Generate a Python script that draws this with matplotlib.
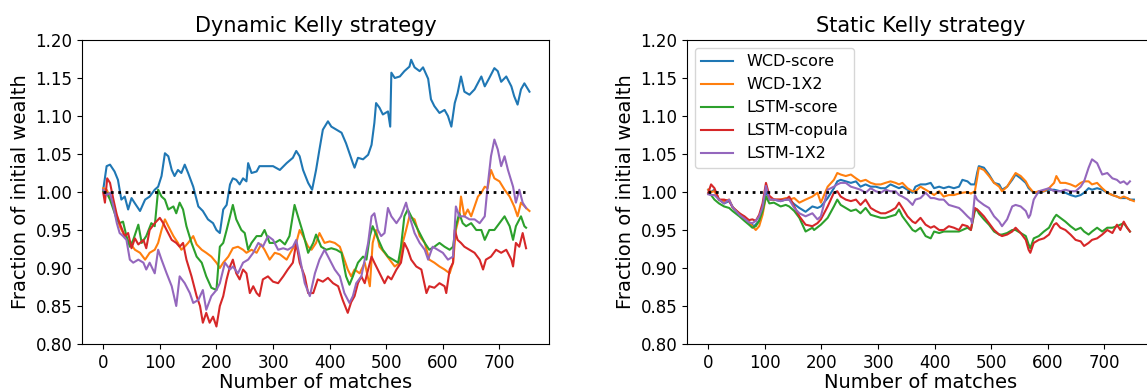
import matplotlib
matplotlib.use("Agg")
import matplotlib.pyplot as plt

# ---------------- data: Dynamic Kelly strategy ----------------
dyn_wcd_score_x = [0,6,12,20,26,32,38,44,50,56,65,74,82,91,97,103,109,115,121,126,132,138,144,150,159,168,176,185,194,200,206,212,218,224,229,235,241,247,253,256,262,271,276,288,300,312,324,335,341,347,353,362,369,376,382,388,397,403,412,421,429,435,441,444,450,459,468,474,479,482,488,494,503,507,509,515,524,532,541,544,550,559,565,574,579,585,594,603,609,615,621,626,632,638,647,656,668,674,682,691,697,703,712,721,726,732,738,744,753]
dyn_wcd_score_y = [1.003,1.034,1.036,1.027,1.016,0.99,0.994,0.977,0.992,0.985,0.975,0.99,0.994,1.003,1.007,1.021,1.051,1.047,1.029,1.021,1.029,1.025,1.036,1.025,1.007,0.981,0.975,0.964,0.959,0.95,0.946,0.977,0.983,1.01,1.018,1.016,1.01,1.018,1.014,1.038,1.025,1.027,1.034,1.034,1.034,1.029,1.038,1.045,1.054,1.047,1.029,1.012,1.003,1.029,1.056,1.082,1.093,1.086,1.082,1.078,1.064,1.051,1.038,1.032,1.045,1.043,1.049,1.062,1.091,1.117,1.111,1.102,1.106,1.086,1.157,1.15,1.152,1.159,1.165,1.174,1.164,1.159,1.164,1.149,1.122,1.113,1.104,1.108,1.1,1.086,1.117,1.13,1.152,1.132,1.128,1.135,1.152,1.139,1.15,1.163,1.159,1.145,1.152,1.139,1.126,1.115,1.135,1.143,1.132]

dyn_wcd_1x2_x = [0,6,12,18,24,29,38,47,56,65,74,82,91,97,103,109,115,124,132,138,144,150,159,165,174,182,191,200,206,212,221,229,238,247,253,262,271,279,285,294,303,312,324,332,341,
                 347,353,362,368,376,382,391,400,409,418,426,432,438,444,453,462,471,476,482,488,497,506,515,524,529,535,541,550,559,568,576,585,594,603,612,618,623,629,632,638,644,650,656,662,668,674,679,685,691,700,709,718,726,732,738,747,753]
dyn_wcd_1x2_y = [1.005,1.003,0.994,0.981,0.968,0.955,0.942,0.933,0.924,0.92,0.911,0.92,0.924,0.933,0.95,0.964,0.955,0.942,0.933,0.924,0.928,0.933,0.942,0.931,0.924,0.92,0.915,0.907,0.9,0.907,0.915,0.926,0.928,0.924,0.92,0.924,0.92,0.931,0.924,0.911,0.92,0.918,0.911,0.922,0.933,
                 0.95,0.942,0.928,0.924,0.933,0.946,0.933,0.935,0.933,0.928,0.911,0.898,0.889,0.898,0.893,0.907,0.876,0.933,0.95,0.928,0.92,0.911,0.902,0.907,0.933,0.95,0.968,0.964,0.942,0.933,0.911,0.907,0.902,0.898,0.893,0.907,0.95,0.968,0.994,0.968,0.977,0.968,0.981,0.994,0.999,1.007,1.005,1.029,1.018,1.014,1.003,0.994,0.981,0.968,0.986,0.979,0.975]

dyn_lstm_score_x = [0,6,12,18,24,29,35,41,47,53,62,68,76,85,91,97,103,109,115,124,129,135,141,147,156,165,174,182,191,200,206,212,218,224,229,235,244,250,256,262,271,279,285,294,303,312,321,329,338,344,
                    353,362,371,376,385,394,403,412,421,429,435,441,450,459,465,471,476,485,494,503,512,521,526,532,538,544,550,559,568,576,585,594,603,612,618,623,629,635,641,650,659,668,674,682,691,700,709,718,724,729,738,744,747]
dyn_lstm_score_y = [1.001,0.999,0.99,0.977,0.964,0.959,0.961,0.942,0.928,0.937,0.957,0.933,0.942,0.959,0.955,1.003,0.994,0.99,0.977,0.981,0.972,0.986,0.977,0.955,0.933,0.915,0.907,0.889,0.874,0.871,0.928,0.933,0.95,0.968,0.983,0.964,0.95,0.946,0.924,0.933,0.942,0.942,0.95,0.933,0.933,0.937,0.931,0.942,0.983,0.968,
                    0.946,0.92,0.933,0.944,0.928,0.924,0.926,0.924,0.92,0.889,0.878,0.889,0.907,0.915,0.911,0.942,0.955,0.939,0.924,0.915,0.911,0.907,0.928,0.968,0.977,0.968,0.959,0.946,0.933,0.924,0.928,0.933,0.928,0.924,0.928,0.955,0.972,0.959,0.955,0.959,0.95,0.95,0.937,0.95,0.95,0.959,0.968,0.955,0.937,0.955,0.968,0.955,0.953]

dyn_lstm_copula_x = [0,3,7,12,18,24,29,38,44,50,56,62,71,76,82,91,100,106,112,121,129,135,141,147,156,165,171,176,182,188,194,200,206,212,218,224,229,235,241,247,253,259,265,271,276,282,291,300,309,318,326,335,341,
                     347,356,362,371,379,388,397,406,415,423,432,438,444,450,456,462,468,474,479,485,491,497,503,509,518,526,532,538,544,553,562,571,576,585,594,603,606,612,618,621,626,632,638,647,656,665,671,676,685,694,703,712,721,724,729,735,741,747]
dyn_lstm_copula_y = [0.999,0.986,1.018,1.012,0.99,0.97,0.959,0.942,0.946,0.926,0.939,0.931,0.937,0.926,0.95,0.959,0.966,0.959,0.95,0.937,0.933,0.928,0.933,0.911,0.889,0.863,0.85,0.828,0.841,0.828,0.836,0.823,0.85,0.863,0.885,0.902,0.911,0.893,0.885,0.898,0.893,0.867,0.876,0.867,0.863,0.885,0.889,0.882,0.88,0.889,0.898,0.907,0.933,
                     0.907,0.889,0.867,0.867,0.885,0.882,0.887,0.88,0.876,0.858,0.841,0.855,0.863,0.88,0.889,0.88,0.898,0.915,0.907,0.898,0.889,0.88,0.889,0.885,0.898,0.907,0.933,0.924,0.911,0.902,0.898,0.867,0.876,0.874,0.88,0.876,0.867,0.898,0.907,0.95,0.937,0.933,0.928,0.924,0.92,0.911,0.898,0.911,0.915,0.924,0.92,0.924,0.911,0.902,0.933,0.928,0.946,0.926]

dyn_lstm_1x2_x = [0,6,12,18,24,29,35,41,47,53,62,71,76,82,91,97,103,112,121,129,135,144,153,159,168,176,182,191,200,206,215,224,229,238,247,256,265,274,282,291,300,309,318,326,335,341,
                  347,356,365,374,382,391,400,409,418,426,435,441,447,456,462,468,474,479,485,491,497,503,509,518,526,535,541,550,559,568,574,582,591,600,609,618,623,629,638,647,656,665,674,679,685,691,697,703,709,715,724,729,735,741,747]
dyn_lstm_1x2_y = [1.003,0.996,0.999,0.981,0.959,0.946,0.942,0.937,0.911,0.907,0.911,0.907,0.898,0.907,0.893,0.924,0.911,0.893,0.876,0.85,0.889,0.88,0.867,0.854,0.858,0.871,0.845,0.863,0.871,0.88,0.907,0.898,0.902,0.893,0.907,0.911,0.92,0.933,0.928,0.942,0.937,0.924,0.926,0.924,0.928,0.937,
                  0.915,0.88,0.863,0.893,0.911,0.924,0.911,0.898,0.889,0.867,0.854,0.863,0.88,0.889,0.911,0.933,0.968,0.972,0.95,0.942,0.946,0.979,0.968,0.959,0.968,0.986,0.968,0.946,0.933,0.924,0.911,0.928,0.924,0.92,0.911,0.915,0.981,0.968,0.968,0.964,0.964,0.959,0.968,1.007,1.047,1.069,1.056,1.034,1.047,1.029,1.007,0.986,1.003,0.986,0.979]

# ---------------- data: Static Kelly strategy ----------------
sta_wcd_score_x = [0,5,11,19,28,37,46,55,64,72,81,90,96,102,108,116,128,137,143,152,161,172,184,193,199,211,222,228,234,243,252,261,269,278,287,296,305,313,322,331,337,343,352,361,366,375,384,393,399,408,416,425,434,443,449,458,464,471,475,478,487,496,505,514,519,528,537,543,552,561,566,575,584,593,602,611,622,631,640,649,658,664,672,678,687,696,705,714,722,728,734,740,745,752]
sta_wcd_score_y = [1.003,1.0,1.003,0.99,0.985,0.988,0.977,0.972,0.965,0.96,0.955,0.962,0.975,1.001,0.99,0.99,0.988,0.99,0.99,0.984,0.979,0.974,0.981,0.979,0.981,0.992,1.005,1.014,1.016,1.014,1.012,1.014,1.007,1.01,1.007,1.007,1.005,1.005,1.01,1.007,1.005,1.007,1.003,0.999,1.007,1.01,1.01,1.012,1.005,1.007,1.005,1.007,1.005,1.007,1.016,1.014,1.01,1.01,1.025,1.034,1.032,1.023,1.012,1.01,1.003,1.007,1.016,1.023,1.018,1.012,1.005,0.999,0.999,1.001,1.003,1.003,1.001,0.999,0.996,0.994,0.996,0.999,1.005,1.003,1.005,1.003,0.999,0.996,0.994,0.992,0.992,0.992,0.99,0.99]

sta_wcd_1x2_x = [0,5,11,19,28,37,43,55,64,72,78,84,90,96,102,108,116,128,137,143,152,161,172,184,193,199,211,222,228,234,243,252,261,269,278,287,296,305,313,322,331,337,343,352,361,366,375,384,393,399,408,416,425,434,443,449,458,464,471,475,478,487,496,505,514,519,528,537,543,552,561,566,575,584,593,602,611,615,622,631,640,649,658,664,672,678,687,696,705,714,722,728,734,740,745,752]
sta_wcd_1x2_y = [1.003,1.0,1.001,0.99,0.988,0.99,0.98,0.972,0.965,0.96,0.955,0.95,0.955,0.97,0.994,0.99,0.99,0.99,0.992,0.99,0.992,0.986,0.99,0.994,0.999,0.986,1.007,1.016,1.025,1.023,1.021,1.023,1.018,1.014,1.016,1.012,1.01,1.01,1.012,1.014,1.012,1.01,1.012,1.005,1.001,1.001,1.007,1.003,0.999,0.996,1.001,0.994,0.996,0.996,0.998,0.999,1.0,0.998,1.001,1.018,1.032,1.029,1.021,1.012,1.007,1.001,1.007,1.018,1.025,1.021,1.014,1.007,0.999,1.001,1.001,1.005,1.012,1.021,1.012,1.012,1.01,1.007,1.012,1.014,1.014,1.01,1.012,1.005,0.999,0.996,0.994,0.992,0.994,0.992,0.99,0.988]

sta_lstm_score_x = [0,5,11,19,28,37,43,55,64,72,78,84,90,96,102,108,116,128,137,143,152,161,172,184,187,199,211,222,228,234,243,252,261,269,278,287,296,305,313,322,331,337,343,352,361,366,375,384,393,399,408,416,425,434,443,449,458,464,471,475,478,487,496,505,514,519,528,537,543,552,561,566,569,575,584,593,602,611,615,622,631,640,649,658,664,672,678,687,696,705,714,722,728,734,740,745]
sta_lstm_score_y = [0.998,0.996,0.99,0.985,0.981,0.979,0.975,0.968,0.962,0.957,0.953,0.955,0.962,0.975,0.994,0.985,0.986,0.981,0.983,0.981,0.975,0.966,0.948,0.953,0.95,0.957,0.966,0.981,0.99,0.983,0.979,0.975,0.977,0.972,0.979,0.97,0.968,0.966,0.966,0.968,0.97,0.977,0.968,0.959,0.95,0.948,0.953,0.942,0.939,0.948,0.946,0.948,0.948,0.948,0.948,0.95,0.953,0.95,0.975,0.977,0.972,0.964,0.957,0.948,0.944,0.944,0.946,0.95,0.95,0.946,0.942,0.931,0.926,0.939,0.942,0.948,0.953,0.966,0.97,0.966,0.961,0.955,0.95,0.953,0.948,0.944,0.948,0.953,0.948,0.953,0.953,0.955,0.957,0.959,0.953,0.948]

sta_lstm_copula_x = [0,5,11,19,28,37,43,55,64,72,78,84,90,96,102,108,116,128,137,143,152,161,172,184,193,199,211,222,228,234,243,252,261,269,278,287,296,305,313,322,331,337,343,352,361,366,375,384,393,399,408,416,425,434,443,449,458,464,471,475,478,487,496,505,514,519,528,537,543,552,561,566,569,575,584,593,602,611,615,622,631,640,649,658,664,672,678,687,696,705,714,722,728,734,740,745]
sta_lstm_copula_y = [0.999,1.01,1.005,0.99,0.99,0.988,0.98,0.972,0.968,0.963,0.964,0.962,0.97,0.985,1.012,0.995,0.99,0.99,0.99,0.994,0.981,0.968,0.957,0.955,0.959,0.964,0.981,0.999,1.001,0.994,0.99,0.988,0.99,0.983,0.99,0.979,0.975,0.972,0.972,0.975,0.979,0.986,0.979,0.968,0.961,0.959,0.966,0.957,0.953,0.955,0.95,0.95,0.955,0.953,0.95,0.957,0.955,0.95,0.979,0.977,0.975,0.968,0.959,0.95,0.944,0.942,0.944,0.948,0.953,0.946,0.937,0.924,0.92,0.933,0.937,0.939,0.944,0.957,0.959,0.953,0.95,0.944,0.937,0.935,0.929,0.933,0.937,0.939,0.944,0.95,0.946,0.957,0.95,0.961,0.953,0.948]

sta_lstm_1x2_x = [0,5,11,19,28,37,43,55,64,72,78,84,90,96,102,108,116,128,137,143,152,161,172,184,193,199,211,222,228,234,243,252,261,269,278,287,296,305,313,322,331,337,343,352,361,366,375,384,393,399,408,416,425,434,443,449,458,464,466,471,475,478,487,496,505,514,519,528,537,543,552,561,566,569,575,584,593,602,611,622,631,640,649,658,664,672,678,687,696,705,714,722,728,734,740,745]
sta_lstm_1x2_y = [0.997,0.996,0.996,0.99,0.985,0.99,0.98,0.97,0.965,0.96,0.959,0.962,0.968,0.98,1.008,0.99,0.99,0.988,0.99,0.99,0.979,0.972,0.968,0.972,0.964,0.968,1.003,1.007,1.01,1.012,1.012,1.007,1.005,1.003,0.999,1.005,1.001,0.999,1.003,1.001,1.001,0.996,0.994,0.99,0.983,0.99,0.992,0.999,0.992,0.992,0.99,0.99,0.983,0.981,0.979,0.975,0.968,0.964,0.959,0.996,0.99,0.988,0.983,0.979,0.968,0.961,0.955,0.964,0.981,0.983,0.981,0.975,0.966,0.97,0.99,1.001,1.003,1.005,1.001,1.001,1.003,1.001,1.001,1.007,1.014,1.032,1.043,1.038,1.023,1.025,1.018,1.016,1.012,1.014,1.01,1.014]

series_labels = ["WCD-score", "WCD-1X2", "LSTM-score", "LSTM-copula", "LSTM-1X2"]
baseline_x = [0, 745]
baseline_y = [1.0, 1.0]
y_ticks = [0.80, 0.85, 0.90, 0.95, 1.00, 1.05, 1.10, 1.15, 1.20]
x_ticks = [0, 100, 200, 300, 400, 500, 600, 700]

colors = ["#1f77b4", "#ff7f0e", "#2ca02c", "#d62728", "#9467bd"]

W, H = 1147, 392
fig = plt.figure(figsize=(W / 100, H / 100), dpi=100)
ax1 = fig.add_axes([82 / W, 1 - 344 / H, 467 / W, 304 / H])
ax2 = fig.add_axes([687 / W, 1 - 344 / H, 467 / W, 304 / H])

panels = [
    (ax1, "Dynamic Kelly strategy",
     [(dyn_wcd_score_x, dyn_wcd_score_y), (dyn_wcd_1x2_x, dyn_wcd_1x2_y),
      (dyn_lstm_score_x, dyn_lstm_score_y), (dyn_lstm_copula_x, dyn_lstm_copula_y),
      (dyn_lstm_1x2_x, dyn_lstm_1x2_y)]),
    (ax2, "Static Kelly strategy",
     [(sta_wcd_score_x, sta_wcd_score_y), (sta_wcd_1x2_x, sta_wcd_1x2_y),
      (sta_lstm_score_x, sta_lstm_score_y), (sta_lstm_copula_x, sta_lstm_copula_y),
      (sta_lstm_1x2_x, sta_lstm_1x2_y)]),
]

for ax, title, data in panels:
    for (xs, ys), lab, c in zip(data, series_labels, colors):
        n = min(len(xs), len(ys))
        ax.plot(xs[:n], ys[:n], color=c, lw=1.5, label=lab)
    ax.plot(baseline_x, baseline_y, color="black", ls=":", lw=2)
    ax.set_xlim(-37.5, 787.5)
    ax.set_ylim(0.80, 1.20)
    ax.set_yticks(y_ticks)
    ax.set_yticklabels([f"{t:.2f}" for t in y_ticks])
    ax.set_xticks(x_ticks)
    ax.tick_params(labelsize=12)
    ax.set_title(title, fontsize=15)
    ax.set_xlabel("Number of matches", fontsize=14, labelpad=1)
    ax.set_ylabel("Fraction of initial wealth", fontsize=14)

ax2.legend(loc="upper left", fontsize=11.5)

fig.savefig("out.png", dpi=100)
